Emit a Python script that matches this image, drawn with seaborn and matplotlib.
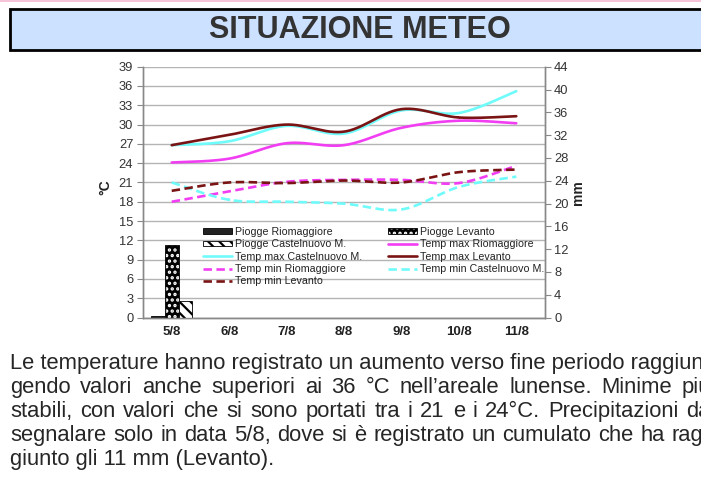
import numpy as np
import pandas as pd
import matplotlib
matplotlib.use('Agg')
import matplotlib.pyplot as plt
import seaborn as sns
from matplotlib.patches import Rectangle, Patch
from matplotlib.lines import Line2D

# dati
days = ['5/8', '6/8', '7/8', '8/8', '9/8', '10/8', '11/8']

# piogge (mm, asse destro)
rain_rio = [0.2, 0, 0, 0, 0, 0, 0]
rain_lev = [12.7, 0, 0, 0, 0, 0, 0]
rain_cas = [2.9, 0, 0, 0, 0, 0, 0]

# temperature (°C, asse sinistro)
tmax_rio = [24.1, 24.7, 27.1, 26.8, 29.5, 30.6, 30.2]
tmax_cas = [26.8, 27.4, 29.8, 28.6, 32.2, 31.8, 35.2]
tmax_lev = [26.8, 28.4, 30.0, 28.9, 32.4, 31.1, 31.3]
tmin_rio = [18.0, 19.6, 21.1, 21.4, 21.4, 20.9, 23.6]
tmin_cas = [21.0, 18.3, 18.0, 17.7, 16.8, 20.3, 21.9]
tmin_lev = [19.7, 21.0, 20.9, 21.3, 21.0, 22.6, 23.0]

text_lines = [
    "Le temperature hanno registrato un aumento verso fine periodo raggiun-",
    "gendo valori anche superiori ai 36 °C nell’areale lunense. Minime più",
    "stabili, con valori che si sono portati tra i 21 e i 24°C. Precipitazioni da",
    "segnalare solo in data 5/8, dove si è registrato un cumulato che ha rag-",
    "giunto gli 11 mm (Levanto).",
]

MAGENTA = '#f23ef2'
CYAN = '#70fbfb'
DARKRED = '#7a1414'

sns.set_style('white')
plt.rcParams['font.family'] = ['Liberation Sans', 'DejaVu Sans']
plt.rcParams['hatch.linewidth'] = 1.6

W, H = 701, 494
fig = plt.figure(figsize=(W / 100, H / 100), dpi=100)


def fx(x):
    return x / W


def fy(y):
    return 1 - y / H


# intestazione
fig.add_artist(Rectangle((0, fy(2.5)), 1, 2.5 / H, transform=fig.transFigure,
                         facecolor='#f7c3d9', edgecolor='none'))
fig.add_artist(Rectangle((fx(10), fy(50.5)), fx(900), 41 / H, transform=fig.transFigure,
                         facecolor='#cce0ff', edgecolor='black', lw=2))
fig.text(fx(360), fy(30), 'SITUAZIONE METEO', ha='center', va='center',
         fontsize=22, fontweight='bold', color='#333333')

# grafico
ax = fig.add_axes([fx(143), fy(317.5), fx(545) - fx(143), (317.5 - 66.7) / H])
ax2 = ax.twinx()

df = pd.DataFrame({
    'giorno': days * 3,
    'mm': rain_rio + rain_lev + rain_cas,
    'serie': ['Piogge Riomaggiore'] * 7 + ['Piogge Levanto'] * 7 + ['Piogge Castelnuovo M.'] * 7,
})
sns.barplot(data=df, x='giorno', y='mm', hue='serie', ax=ax2, width=0.72,
            palette=['#222222'] * 3, saturation=1, legend=False,
            edgecolor='black', linewidth=0.6)

for i, cont in enumerate(ax2.containers):
    for p in cont.patches:
        if i == 1:
            p.set_facecolor('black')
            p.set_hatch('...')
            p._hatch_color = (1, 1, 1, 1)
        elif i == 2:
            p.set_facecolor('white')
            p.set_hatch('\\\\\\')


def smooth(vals, n=30):
    y = np.asarray(vals, float)
    x = np.arange(len(y), dtype=float)
    px = np.r_[x[0], x, x[-1]]
    py = np.r_[y[0], y, y[-1]]
    t = np.linspace(0, 1, n)
    xs, ys = [], []
    for i in range(len(y) - 1):
        for arr, out in ((px, xs), (py, ys)):
            p0, p1, p2, p3 = arr[i:i + 4]
            out.append(0.5 * (2 * p1 + (p2 - p0) * t + (2 * p0 - 5 * p1 + 4 * p2 - p3) * t ** 2
                              + (3 * p1 - p0 - 3 * p2 + p3) * t ** 3))
    return np.concatenate(xs), np.concatenate(ys)


dash = (0, (3.2, 1.7))
series = [
    ('Temp max Riomaggiore', tmax_rio, MAGENTA, '-'),
    ('Temp max Castelnuovo M.', tmax_cas, CYAN, '-'),
    ('Temp max Levanto', tmax_lev, DARKRED, '-'),
    ('Temp min Riomaggiore', tmin_rio, MAGENTA, dash),
    ('Temp min Castelnuovo M.', tmin_cas, CYAN, dash),
    ('Temp min Levanto', tmin_lev, DARKRED, dash),
]
for name, vals, col, ls in series:
    sx, sy = smooth(vals)
    sns.lineplot(x=sx, y=sy, ax=ax, color=col, lw=1.9, linestyle=ls,
                 estimator=None, sort=False)

# assi
ax.set_ylim(0, 39)
ax.set_yticks(range(0, 40, 3))
ax2.set_ylim(0, 44)
ax2.set_yticks(range(0, 45, 4))
ax.set_xlim(-0.5, 6.5)
ax.set_xticks(np.arange(-0.5, 7, 1))
ax.set_xticklabels([])
ax.set_xticks(range(7), minor=True)
ax.set_xticklabels(days, minor=True, fontweight='bold')
ax.tick_params(axis='x', which='minor', length=0, pad=6, labelsize=9.5, labelcolor='#222222')
ax.tick_params(axis='x', which='major', length=4, color='#888888', direction='out')
ax.tick_params(axis='y', length=4, color='#888888', labelsize=9.3, labelcolor='#333333', pad=3, left=True)
ax2.tick_params(axis='y', length=4, color='#888888', labelsize=9.3, labelcolor='#333333', pad=2.5, right=True)
ax.grid(axis='y', color='#b4b4b4', lw=1)
ax.set_axisbelow(True)
for a in (ax, ax2):
    a.spines['top'].set_visible(False)
    for s in ('left', 'right', 'bottom'):
        a.spines[s].set_color('#888888')
        a.spines[s].set_linewidth(1)
ax.set_xlabel('')
ax2.set_xlabel('')
ax2.set_ylabel('')
fig.text(fx(105), fy(187), '°C', rotation=90, ha='center', va='center',
         fontsize=10, fontweight='bold', color='#222222')
fig.text(fx(578), fy(193), 'mm', rotation=90, ha='center', va='center',
         fontsize=10, fontweight='bold', color='#222222')

# legenda
h_rio = Patch(facecolor='#222222', edgecolor='black', lw=0.6)
h_lev = Patch(facecolor='black', edgecolor='black', hatch='...', lw=0.6)
h_lev._hatch_color = (1, 1, 1, 1)
h_cas = Patch(facecolor='white', edgecolor='black', hatch='\\\\\\', lw=0.6)
lh = {name: Line2D([], [], color=col, lw=1.9, linestyle=ls) for name, vals, col, ls in series}
handles = [h_rio, h_cas, lh['Temp max Castelnuovo M.'], lh['Temp min Riomaggiore'], lh['Temp min Levanto'],
           h_lev, lh['Temp max Riomaggiore'], lh['Temp max Levanto'], lh['Temp min Castelnuovo M.']]
labels = ['Piogge Riomaggiore', 'Piogge Castelnuovo M.', 'Temp max Castelnuovo M.', 'Temp min Riomaggiore',
          'Temp min Levanto', 'Piogge Levanto', 'Temp max Riomaggiore', 'Temp max Levanto',
          'Temp min Castelnuovo M.']
fig.legend(handles, labels, loc='upper left', bbox_to_anchor=(fx(203), fy(227)),
           bbox_transform=fig.transFigure, ncol=2, frameon=False, fontsize=7.7,
           handlelength=2.7, handleheight=0.45, handletextpad=0.3, columnspacing=2.4,
           labelspacing=0.22, borderpad=0, borderaxespad=0, labelcolor='#222222')

# testo giustificato
fs = 15.82
base_y = 369
step = 24
x0 = 10
fig.canvas.draw()
renderer = fig.canvas.get_renderer()
ref = fig.text(fx(x0), fy(base_y), text_lines[0], fontsize=fs, va='baseline', ha='left')
target = ref.get_window_extent(renderer).width
for k, line in enumerate(text_lines[1:], start=1):
    y = fy(base_y + k * step)
    if k == len(text_lines) - 1:
        fig.text(fx(x0), y, line, fontsize=fs, va='baseline', ha='left')
        continue
    words = line.split(' ')
    widths = []
    for w in words:
        t = fig.text(0, 0, w, fontsize=fs)
        widths.append(t.get_window_extent(renderer).width)
        t.remove()
    gap = (target - sum(widths)) / (len(words) - 1)
    xpos = x0
    for w, wd in zip(words, widths):
        fig.text(fx(xpos), y, w, fontsize=fs, va='baseline', ha='left')
        xpos += wd + gap

fig.savefig('out.png', dpi=100)
